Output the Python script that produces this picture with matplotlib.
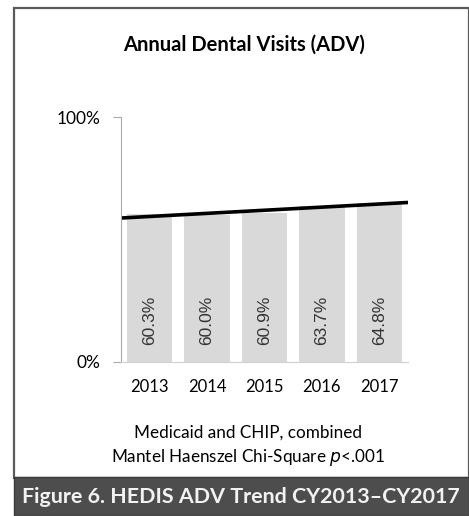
import numpy as np
import matplotlib.pyplot as plt
from matplotlib.patches import Rectangle

plt.rcParams['font.family'] = ['Lato', 'DejaVu Sans']

years = ['2013', '2014', '2015', '2016', '2017']
rates = [60.3, 60.0, 60.9, 63.7, 64.8]
labels = ['60.3%', '60.0%', '60.9%', '63.7%', '64.8%']

fig = plt.figure(figsize=(4.69, 5.16), dpi=100)

# outer frame and caption band
fig.patches.append(Rectangle((14/469, 38/516), 1 - 14/469, (508 - 38)/516,
                             transform=fig.transFigure, fill=False,
                             edgecolor='#5a5a5a', linewidth=1.6))
fig.patches.append(Rectangle((14/469, 0), 1 - 14/469, 39/516,
                             transform=fig.transFigure, facecolor='#4d4d4d',
                             edgecolor='#3a3a3a', linewidth=1.0))

ax = fig.add_axes([121/469, 154/516, 287/469, 245/516])
x = np.arange(len(years))
ax.bar(x, rates, width=0.79, color='#d9d9d9')
for i in range(len(x)):
    ax.text(x[i], 17, labels[i], rotation=90, ha='center', va='center',
            fontsize=12.5, color='#333333', family='Liberation Sans')

# linear trend across the whole axis
k, b = np.polyfit(x, rates, 1)
xt = np.array([-0.5, 4.5])
ax.plot(xt, k*xt + b, color='black', linewidth=2.6, solid_capstyle='butt')

ax.set_xlim(-0.5, 4.5)
ax.set_ylim(0, 100)
ax.set_yticks([0, 100])
ax.set_yticklabels(['0%', '100%'], fontsize=12.5)
ax.set_xticks(x)
ax.set_xticklabels(years, fontsize=12)
ax.tick_params(axis='x', length=0, pad=12)
ax.tick_params(axis='y', length=6, color='#aaaaaa', pad=9)
for s in ['top', 'right']:
    ax.spines[s].set_visible(False)
ax.spines['left'].set_color('#aaaaaa')
ax.spines['bottom'].set_color('#d0d0d0')

fig.text(244/469, 1 - 45/516, 'Annual Dental Visits (ADV)', ha='center',
         va='center', fontsize=14.5, fontweight='bold')
fig.text(248/469, 1 - 433/516, 'Medicaid and CHIP, combined', ha='center',
         va='center', fontsize=12.3)
fig.text(248/469, 1 - 458/516, 'Mantel Haenszel Chi-Square $p$<.001',
         ha='center', va='center', fontsize=12.3)
fig.text(241/469, 1 - 497/516, 'Figure 6. HEDIS ADV Trend CY2013\u2013CY2017',
         ha='center', va='center', fontsize=15.4, fontweight='bold',
         color='#f2f2f2')

fig.savefig('out.png', dpi=100)
